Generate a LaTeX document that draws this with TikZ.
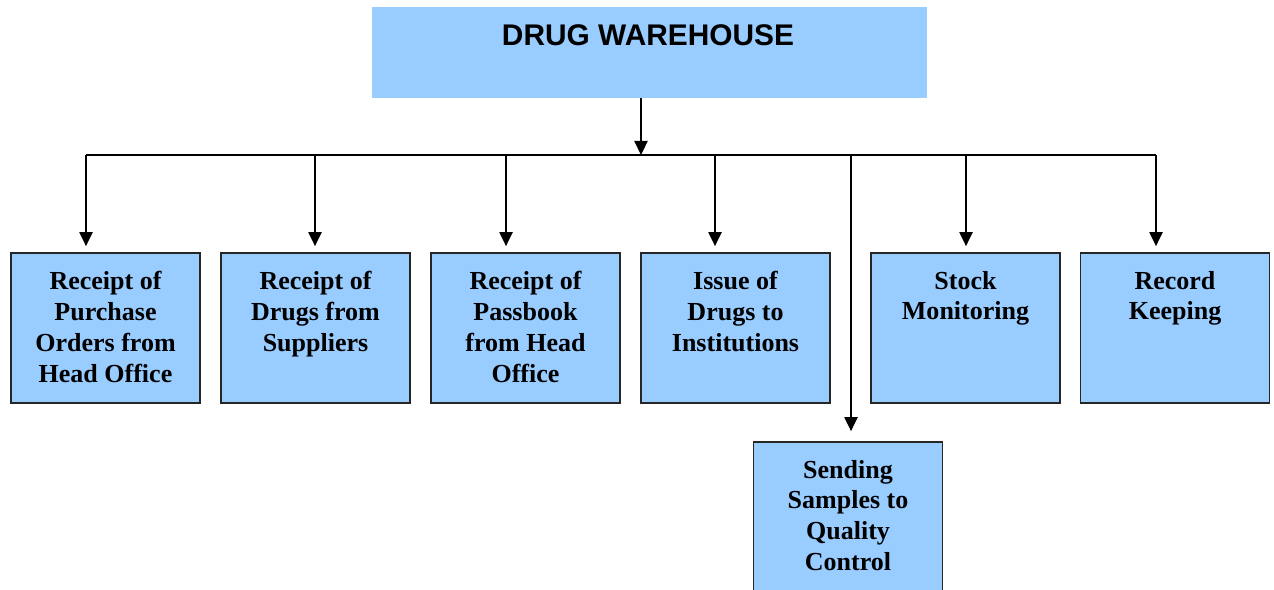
\documentclass[tikz,border=0pt]{standalone}
\usepackage{fontspec}
\setmainfont{Liberation Serif}
\newfontfamily\headfont{Liberation Sans}
\usetikzlibrary{arrows.meta}

\definecolor{boxblue}{RGB}{153,204,255}
\tikzset{
  unit/.style={draw=black!85, line width=1pt, fill=boxblue, minimum width=3.78cm, minimum height=3cm, inner sep=0pt},
  unittext/.style={anchor=north, inner sep=0pt, align=center, yshift=-0.37cm, font=\fontsize{14.8}{17.6}\selectfont\bfseries},
  arr/.style={-{Triangle[width=7.5pt,length=8pt]}, line width=1pt},
}

\begin{document}
\begin{tikzpicture}[x=0.02cm,y=-0.02cm]
    \useasboundingbox (0,0) rectangle (1274,590);

    \node[fill=boxblue, minimum width=11.1cm, minimum height=1.82cm, inner sep=0pt] (store) at (649.5,52.5) {};
    \node[anchor=base, inner sep=0pt, font=\headfont\fontsize{17}{20}\selectfont\bfseries] (storetext) at (648,46) {DRUG WAREHOUSE};

    \node[unit] (recpo)   at (105.5,328) {};
    \node[unit] (recdrug) at (315.5,328) {};
    \node[unit] (recpass) at (525.5,328) {};
    \node[unit] (issue)   at (735.5,328) {};
    \node[unit] (stock)   at (965.5,328) {};
    \node[unit] (record)  at (1175,328) {};
    \node[unit] (samples) at (848,517) {};

    \node[unittext] (recpotext)   at (recpo.north)   {Receipt of\\Purchase\\Orders from\\Head Office};
    \node[unittext] (recdrugtext) at (recdrug.north) {Receipt of\\Drugs from\\Suppliers};
    \node[unittext] (recpasstext) at (recpass.north) {Receipt of\\Passbook\\from Head\\Office};
    \node[unittext] (issuetext)   at (issue.north)   {Issue of\\Drugs to\\Institutions};
    \node[unittext] (stocktext)   at (stock.north)   {Stock\\Monitoring};
    \node[unittext] (recordtext)  at (record.north)  {Record\\Keeping};
    \node[unittext] (samplestext) at (samples.north) {Sending\\Samples to\\Quality\\Control};

    \coordinate (hub)  at (641,155);
    \coordinate (busl) at (86,155);
    \coordinate (busr) at (1156,155);
    \draw[arr] (hub |- store.south) -- (hub);
    \draw[line width=1pt] (busl) -- (busr);

    \foreach \b/\ax in {recpo/86, recdrug/315, recpass/506, issue/715, stock/966, record/1156}
        \draw[arr, shorten >=0.12cm] (\ax,155) coordinate (drop) -- (drop |- \b.north);
    \draw[arr, shorten >=0.2cm] (851,155) coordinate (drop) -- (drop |- samples.north);
\end{tikzpicture}
\end{document}
